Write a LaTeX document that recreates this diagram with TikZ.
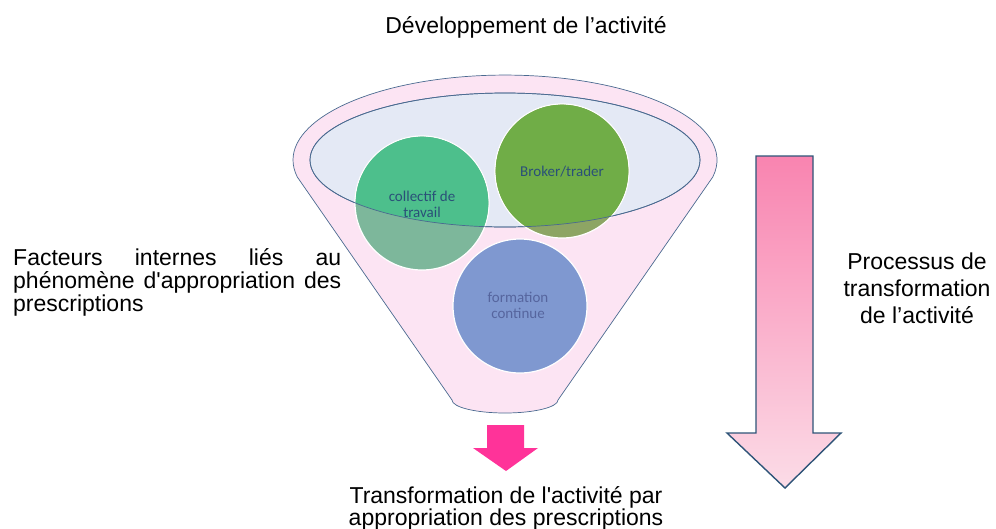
\documentclass[tikz,border=0pt]{standalone}
\usepackage{fontspec}
\setmainfont{Liberation Sans}
\newfontfamily\calibfont{Carlito}
\usetikzlibrary{positioning}
\definecolor{fnPink}{HTML}{FCE4F3}
\definecolor{fnBlueL}{HTML}{E4E9F5}
\definecolor{fnLine}{HTML}{4A6A90}
\definecolor{ciGreen}{HTML}{4DBF8C}
\definecolor{ciGreenD}{HTML}{7DB79B}
\definecolor{ciOlive}{HTML}{70AD47}
\definecolor{ciOliveD}{HTML}{8DA564}
\definecolor{ciBlue}{HTML}{7F98D0}
\definecolor{ciText}{HTML}{2A5078}
\definecolor{ciTextF}{HTML}{56659E}
\definecolor{arPink}{HTML}{FF3399}
\definecolor{arTop}{HTML}{F984B0}
\definecolor{arBot}{HTML}{FBDCE7}
\definecolor{arLine}{HTML}{2E5478}

\begin{document}
\begin{tikzpicture}[
  x=1pt, y=-1pt,
  txt/.style    = {font=\fontsize{23}{23}\selectfont, inner sep=0pt},
  ball/.style   = {circle, draw=white, line width=1.2pt,
                   minimum size=134pt, inner sep=0pt},
  blbl/.style   = {font=\calibfont\fontsize{15}{16}\selectfont,
                   align=center, text=ciText, inner sep=0pt},
  funnel/.style = {draw=fnLine, line width=0.7pt},
]
\useasboundingbox (0,0) rectangle (996,528);

%── Funnel body ───────────────────────────────────────────────────────────────
\coordinate (rim)  at (505,160);
\filldraw[funnel, fill=fnPink]
  (297.3,177) arc[start angle=168.5, end angle=371.5, x radius=212, y radius=85]
  -- (558,400) arc[start angle=0, end angle=180, x radius=53, y radius=13]
  -- cycle;
\filldraw[funnel, fill=fnBlueL] (rim) ellipse[x radius=195, y radius=67];

%── Circles (upper parts brighter inside the rim) ─────────────────────────────
\node[ball, fill=ciGreenD] (coll) at (422,203) {};
\node[ball, fill=ciOliveD] (brok) at (562,171) {};
\node[ball, fill=ciBlue]   (form) at (520,306) {};
\begin{scope}
  \clip (rim) ellipse[x radius=195, y radius=67];
  \fill[ciGreen] (coll) circle[radius=66.3];
  \fill[ciOlive] (brok) circle[radius=66.3];
\end{scope}
\draw[funnel] (rim) ellipse[x radius=195, y radius=67];

\node[blbl] (collT) at (422,204) {collectif de\\travail};
\node[blbl] (brokT) at (562,172) {Broker/trader};
\node[blbl, text=ciTextF] (formT) at (518,305) {formation\\continue};

%── Arrows ────────────────────────────────────────────────────────────────────
\fill[arPink] (487,425) -- (524,425) -- (524,448) -- (538,448)
  -- (506,471) -- (473,448) -- (487,448) -- cycle;
\draw[arLine, line width=1.4pt, top color=arTop, bottom color=arBot]
  (756,156) -- (813,156) -- (813,433) -- (841,433)
  -- (785,488) -- (727,433) -- (756,433) -- cycle;

%── Texts ─────────────────────────────────────────────────────────────────────
\node[txt, anchor=base] (dev) at (526,33) {Développement de l’activité};
\node[txt, anchor=north west, text width=328pt, align=justify] (fac) at (13,248)
  {\hyphenpenalty=10000 Facteurs internes liés au\linebreak
   phénomène d\textquotesingle appropriation des\linebreak prescriptions};
\node[txt, font=\fontsize{23}{26.7}\selectfont, align=center, anchor=north]
  (proc) at (917,253) {Processus de\\transformation\\de l’activité};
\node[txt, font=\fontsize{23}{22.5}\selectfont, align=center, anchor=north]
  (tra) at (506,486)
  {Transformation de l\textquotesingle activité par\\appropriation des prescriptions};
\end{tikzpicture}
\end{document}
